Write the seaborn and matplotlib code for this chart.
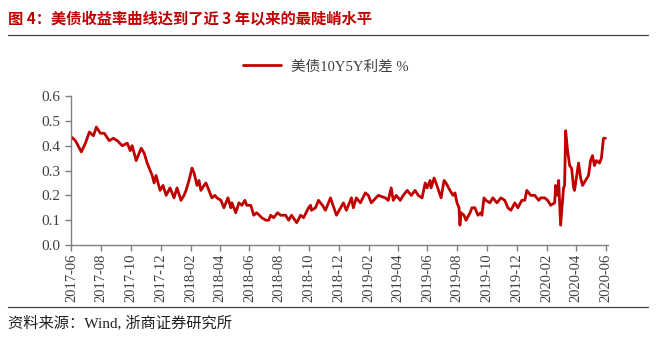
import numpy as np
import pandas as pd
import matplotlib
matplotlib.use("Agg")
import matplotlib.pyplot as plt
import seaborn as sns

# ---- data ----
# time in months since 2017-06-01, and the 10Y-5Y spread (%)
t_months = [0.00, 0.27, 0.67, 0.94, 1.21, 1.48, 1.68, 1.95, 2.21, 2.55, 2.82, 3.09, 3.42,
            3.76, 3.96, 4.09, 4.36, 4.70, 4.90, 5.10, 5.30, 5.44, 5.57, 5.70, 5.97, 6.17,
            6.38, 6.64, 6.91, 7.11, 7.38, 7.58, 7.72, 7.92, 8.12, 8.26, 8.46, 8.59, 8.72,
            8.93, 9.06, 9.26, 9.46, 9.66, 9.80, 10.07, 10.27, 10.54, 10.74, 10.81, 11.07,
            11.28, 11.48, 11.68, 11.81, 12.08, 12.28, 12.48, 12.82, 13.09, 13.29, 13.42,
            13.62, 13.89, 14.09, 14.43, 14.63, 14.83, 15.17, 15.44, 15.64, 15.97, 16.11,
            16.17, 16.44, 16.64, 16.91, 17.11, 17.45, 17.85, 18.32, 18.52, 18.86, 18.99,
            19.19, 19.46, 19.80, 20.00, 20.20, 20.67, 21.14, 21.34, 21.54, 21.68, 21.88,
            22.15, 22.35, 22.62, 22.89, 23.15, 23.36, 23.62, 23.83, 23.96, 24.16, 24.23,
            24.43, 24.56, 24.90, 25.10, 25.23, 25.50, 25.70, 25.84, 25.97, 26.11, 26.17,
            26.24, 26.44, 26.58, 26.85, 26.98, 27.18, 27.38, 27.58, 27.65, 27.79, 27.92,
            28.19, 28.39, 28.66, 28.93, 29.19, 29.40, 29.60, 29.87, 30.07, 30.34, 30.54,
            30.67, 30.94, 31.21, 31.48, 31.61, 31.88, 32.08, 32.28, 32.55, 32.62, 32.75,
            32.82, 32.95, 33.15, 33.22, 33.29, 33.42, 33.56, 33.69, 33.83, 33.89, 34.16,
            34.30, 34.43, 34.63, 34.83, 34.97, 35.10, 35.23, 35.37, 35.57, 35.70, 35.84,
            35.97]
spread = [0.435, 0.42, 0.375, 0.41, 0.455, 0.44, 0.475, 0.45, 0.45, 0.42, 0.43, 0.42, 0.40,
          0.41, 0.38, 0.40, 0.34, 0.39, 0.37, 0.33, 0.30, 0.28, 0.25, 0.28, 0.22, 0.24,
          0.20, 0.23, 0.19, 0.23, 0.18, 0.20, 0.22, 0.26, 0.31, 0.29, 0.24, 0.26, 0.22,
          0.24, 0.25, 0.22, 0.19, 0.20, 0.19, 0.18, 0.15, 0.19, 0.15, 0.17, 0.13,
          0.17, 0.16, 0.18, 0.16, 0.16, 0.12, 0.13, 0.11, 0.10, 0.10, 0.12,
          0.11, 0.13, 0.12, 0.12, 0.10, 0.12, 0.09, 0.12, 0.11, 0.15, 0.16,
          0.14, 0.15, 0.18, 0.16, 0.14, 0.19, 0.12, 0.17, 0.14, 0.19, 0.15,
          0.19, 0.17, 0.21, 0.20, 0.17, 0.20, 0.19, 0.18, 0.23, 0.18, 0.20,
          0.18, 0.20, 0.22, 0.20, 0.22, 0.20, 0.19, 0.25, 0.23, 0.26, 0.23,
          0.27, 0.25, 0.19, 0.26, 0.25, 0.22, 0.20, 0.21, 0.17, 0.15, 0.08,
          0.13, 0.12, 0.10, 0.13, 0.15, 0.15, 0.12, 0.13, 0.12, 0.19, 0.18,
          0.17, 0.19, 0.17, 0.19, 0.18, 0.15, 0.14, 0.17, 0.15, 0.18, 0.18,
          0.22, 0.20, 0.20, 0.18, 0.19, 0.19, 0.18, 0.16, 0.17, 0.24, 0.20,
          0.26, 0.08, 0.23, 0.24, 0.46, 0.38, 0.32, 0.31, 0.23, 0.22, 0.33,
          0.27, 0.24, 0.26, 0.28, 0.34, 0.36, 0.32, 0.34, 0.33, 0.35, 0.43,
          0.43]
tick_labels = ["2017-06", "2017-08", "2017-10", "2017-12", "2018-02", "2018-04",
               "2018-06", "2018-08", "2018-10", "2018-12", "2019-02", "2019-04",
               "2019-06", "2019-08", "2019-10", "2019-12", "2020-02", "2020-04", "2020-06"]
series_name = "美债10Y5Y利差 %"
title = "图 4：美债收益率曲线达到了近 3 年以来的最陡峭水平"
source = "资料来源：Wind, 浙商证券研究所"

start = pd.Timestamp("2017-06-01")
dates = [start + pd.Timedelta(days=m * 30.44) for m in t_months]
df = pd.DataFrame({"date": dates, "spread": spread})

sns.set_theme(style="white")
plt.rcParams["font.family"] = ["Liberation Serif", "Noto Sans CJK SC", "DejaVu Sans"]
plt.rcParams["axes.unicode_minus"] = False

fig = plt.figure(figsize=(6.57, 3.38), dpi=100)
ax = fig.add_axes([0.108, 0.275, 0.818, 0.441])

red = "#C00000"
sns.lineplot(data=df, x="date", y="spread", ax=ax, color=red, lw=2.0, label=series_name)

ax.set_ylim(0, 0.6)
ax.set_yticks(np.arange(0, 0.61, 0.1))
ax.yaxis.set_major_formatter(matplotlib.ticker.FormatStrFormatter("%.1f"))
ticks = [pd.Timestamp(t + "-01") for t in tick_labels]
ax.set_xticks(ticks)
ax.set_xticklabels(tick_labels, rotation=90)
ax.set_xlim(ticks[0] - pd.Timedelta(days=1), ticks[-1] + pd.Timedelta(days=5))
ax.set_xlabel("")
ax.set_ylabel("")

for s in ["top", "right"]:
    ax.spines[s].set_visible(False)
for s in ["left", "bottom"]:
    ax.spines[s].set_color("#7f7f7f")
    ax.spines[s].set_linewidth(1.0)
ax.tick_params(axis="both", colors="#7f7f7f", labelcolor="#404040", labelsize=11,
               direction="out", length=4, width=1.0, left=True, bottom=True)
ax.tick_params(axis="x", labelsize=10.5, pad=2)

leg = ax.legend(loc="center", bbox_to_anchor=(0.474, 1.195), frameon=False,
                fontsize=10.5, handlelength=2.6, handletextpad=0.7)
for t in leg.get_texts():
    t.set_color("#404040")

fig.text(0.012, 0.947, title, color=red, fontsize=11, fontweight="bold",
         family=["Noto Sans CJK SC", "DejaVu Sans"], va="center", ha="left")
fig.add_artist(plt.Line2D([0.012, 0.986], [0.896, 0.896], color="#404040", lw=0.9))
fig.add_artist(plt.Line2D([0.012, 0.986], [0.092, 0.092], color="#404040", lw=0.9))
fig.text(0.012, 0.044, source, color="#202020", fontsize=11, va="center", ha="left",
         family=["Liberation Serif", "Noto Sans CJK SC"])

fig.savefig("out.png", dpi=100)
